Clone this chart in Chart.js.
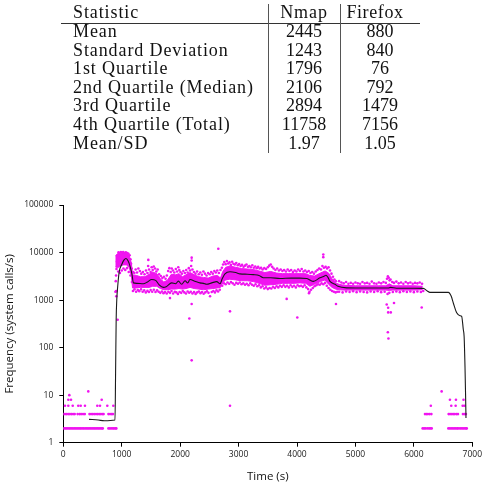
<!DOCTYPE html>
<html>
<head>
<meta charset="utf-8">
<script src="https://cdn.jsdelivr.net/npm/chart.js@4/dist/chart.umd.min.js"></script>
<style>
  html, body { margin: 0; padding: 0; background: #fff; }
  #page { position: relative; width: 488px; height: 484px; overflow: hidden; }
  #chart { position: absolute; left: 0; top: 0; }
  .cell { position: absolute; font-family: "Liberation Serif", serif; font-size: 18px; line-height: 19px; color: #111; white-space: nowrap; }
  .label { left: 73px; letter-spacing: 0.9px; }
  .num { width: 80px; text-align: center; }
  .nmap { left: 264px; }
  .ff { left: 340px; }
  .rule { position: absolute; background: #333; }
</style>
</head>
<body>
<div id="page">
  <canvas id="chart" width="488" height="484"></canvas>
  <div id="table"></div>
</div>
<script>
// 表格数据
const statNames = ['Mean', 'Standard Deviation', '1st Quartile', '2nd Quartile (Median)', '3rd Quartile', '4th Quartile (Total)', 'Mean/SD'];
const nmapStats = ['2445', '1243', '1796', '2106', '2894', '11758', '1.97'];
const firefoxStats = ['880', '840', '76', '792', '1479', '7156', '1.05'];

// 坐标轴刻度
const xTicks = [0, 1000, 2000, 3000, 4000, 5000, 6000, 7000];
const yTicks = [1, 10, 100, 1000, 10000, 100000];

// 黑色平均线 (时间, 频率)
const avgTime = [440, 600, 700, 885, 895, 905, 915, 935, 958, 1000, 1040, 1073, 1110, 1145, 1175, 1200, 1260, 1369, 1440, 1512, 1580, 1640, 1711, 1760, 1855, 1920, 1970, 2026, 2083, 2130, 2168, 2250, 2339, 2400, 2454, 2540, 2625, 2682, 2720, 2767, 2853, 2950, 3024, 3150, 3252, 3350, 3423, 3550, 3709, 3900, 4050, 4165, 4230, 4279, 4393, 4470, 4496, 4530, 4564, 4650, 4700, 4850, 5200, 5560, 5600, 5700, 6000, 6161, 6230, 6275, 6590, 6640, 6675, 6733, 6790, 6818, 6846, 6860, 6875, 6885, 6892];
const avgRate = [3.1, 3.0, 2.9, 3.0, 30, 400, 1000, 2200, 4000, 5600, 7000, 7500, 6600, 5000, 3500, 2300, 2250, 2200, 2400, 2700, 2600, 2100, 1850, 1900, 2300, 2200, 2500, 2150, 2550, 2300, 2700, 2500, 2300, 2250, 2150, 2300, 2450, 2200, 2800, 3560, 3940, 3800, 3560, 3500, 3430, 3300, 2950, 2950, 2850, 2900, 2900, 2850, 2600, 2480, 2950, 3200, 3340, 3000, 2480, 2150, 1950, 1810, 1790, 1800, 1850, 1780, 1780, 1760, 1550, 1450, 1450, 1200, 870, 540, 470, 455, 240, 172, 40, 10, 3.3];

// 密集采样带 (上沿/下沿)
const bandTime = [890, 930, 980, 1030, 1080, 1130, 1165, 1185, 1250, 1320, 1400, 1470, 1530, 1600, 1660, 1720, 1780, 1850, 1920, 1980, 2040, 2100, 2170, 2240, 2320, 2400, 2480, 2560, 2640, 2690, 2730, 2780, 2850, 2950, 3050, 3150, 3250, 3350, 3450, 3550, 3650, 3750, 3850, 3950, 4050, 4150, 4220, 4300, 4400, 4480, 4540, 4600, 4660, 4720, 4800, 5000, 5200, 5400, 5520, 5580, 5640, 5800, 6000, 6150];
const bandHigh = [8500, 9500, 9500, 9800, 9500, 8500, 6000, 3400, 3300, 3100, 3100, 3500, 3900, 3600, 2800, 2400, 2600, 3500, 3400, 3600, 3100, 3400, 3800, 3400, 3100, 3000, 2900, 3200, 3300, 2900, 4000, 4900, 5200, 4900, 4600, 4500, 4400, 4100, 3800, 4000, 3700, 3600, 3600, 3600, 3600, 3600, 3300, 3200, 3700, 4100, 3700, 2800, 2300, 2150, 2050, 2000, 2000, 2000, 2000, 2200, 2000, 2000, 2000, 1950];
const bandLow = [5000, 4800, 5200, 5500, 5500, 4800, 3200, 1800, 1800, 1850, 1850, 1850, 1950, 1950, 1750, 1650, 1650, 1700, 1700, 1750, 1700, 1750, 1850, 1750, 1700, 1650, 1700, 1750, 1800, 1850, 2350, 2650, 2750, 2650, 2550, 2550, 2450, 2250, 2050, 2100, 2150, 2250, 2250, 2250, 2300, 2250, 1950, 2150, 2450, 2650, 2150, 1850, 1700, 1650, 1620, 1620, 1620, 1620, 1620, 1600, 1620, 1620, 1620, 1650];

// 开始和结束时的低值采样 [时间, 频率]
const idleSamples = [
  [2, 2], [24, 2], [47, 2], [70, 2], [96, 2], [118, 2], [141, 2], [165, 2], [190, 2], [212, 2], [236, 2], [260, 2], [283, 2], [305, 2], [330, 2], [352, 2], [377, 2], [400, 2], [423, 2], [447, 2], [470, 2], [494, 2], [518, 2], [541, 2], [565, 2], [588, 2], [612, 2], [636, 2], [660, 2], [676, 2], [772, 2], [795, 2], [820, 2], [846, 2], [868, 2], [893, 2], [908, 2],
  [5, 4], [30, 4], [58, 4], [85, 4], [112, 4], [140, 4], [168, 4], [195, 4], [245, 4], [278, 4], [305, 4], [338, 4], [368, 4], [448, 4], [475, 4], [503, 4], [530, 4], [560, 4], [588, 4], [615, 4], [642, 4], [668, 4], [690, 4], [772, 4], [800, 4], [828, 4], [850, 4],
  [29, 6], [86, 6], [161, 6], [256, 6], [298, 6], [371, 6], [582, 6], [628, 6], [753, 6], [856, 6],
  [86, 8], [132, 8], [657, 8], [103, 10], [428, 12],
  [6150, 2], [6175, 2], [6200, 2], [6230, 2], [6260, 2], [6285, 2], [6305, 2], [6590, 2], [6615, 2], [6640, 2], [6665, 2], [6690, 2], [6715, 2], [6740, 2], [6760, 2], [6790, 2], [6815, 2], [6840, 2], [6865, 2], [6890, 2], [6905, 2],
  [6190, 4], [6215, 4], [6240, 4], [6270, 4], [6300, 4], [6595, 4], [6620, 4], [6650, 4], [6675, 4], [6700, 4], [6730, 4], [6755, 4], [6840, 4], [6865, 4], [6890, 4],
  [6290, 6], [6640, 6], [6715, 6], [6835, 6], [6865, 6], [6617, 8], [6720, 8], [6850, 8], [6475, 12]
];

// 离群点
const outlierSamples = [
  [905, 1540], [907, 1200], [930, 385], [1455, 7000], [1826, 1100], [2157, 410], [2197, 830], [2197, 54], [2197, 7800], [2197, 6800],
  [2653, 12000], [2853, 580], [2853, 6], [3823, 1060], [4005, 430], [4450, 9100], [4450, 8000], [4667, 830],
  [5535, 810], [5560, 690], [5560, 550], [5555, 210], [5565, 155], [5605, 550], [5660, 870], [6134, 700]
];

// 带边缘的零散点
const fuzzSamples = [
  [892, 1500], [898, 2500], [903, 3300], [910, 4500], [918, 6500], [928, 8000], [945, 10100], [965, 9800], [985, 10300], [1005, 9900], [1025, 10200], [1048, 9700], [1070, 10100], [1095, 9800], [1115, 9400], [1135, 8800], [1150, 7200], [1160, 5800], [1170, 4600],
  [940, 4000], [970, 3700], [1000, 4200], [1030, 4600], [1060, 4300], [1090, 4700], [1120, 3900], [1150, 3300], [1175, 2400],
  [1195, 3900], [1215, 3700], [1238, 4400], [1262, 3800], [1285, 4600], [1310, 4100], [1335, 3600], [1362, 3900], [1390, 3500], [1415, 4200], [1440, 3700], [1452, 5200], [1468, 4400], [1495, 3900], [1512, 4900], [1530, 4300], [1548, 5100], [1570, 4600], [1592, 4000], [1615, 4400], [1640, 3500], [1668, 3200], [1695, 2900], [1722, 3100], [1750, 2800], [1772, 3300], [1795, 4100], [1815, 4700], [1838, 3900], [1856, 4600], [1877, 4200], [1900, 3800], [1925, 4500], [1948, 4000], [1968, 4900], [1985, 4300], [2005, 3900], [2030, 3600], [2055, 4100], [2080, 3700], [2104, 4300], [2128, 3800], [2148, 4700], [2170, 4200], [2188, 5200], [2210, 4400], [2235, 3900], [2262, 3600], [2290, 4000], [2318, 3500], [2345, 3800], [2372, 3400], [2398, 4000], [2425, 3600], [2452, 3300], [2478, 3700], [2505, 3500], [2532, 3900], [2558, 3600], [2585, 4100], [2610, 3800], [2635, 4200], [2662, 3700], [2690, 4300],
  [1192, 1550], [1218, 1680], [1246, 1500], [1275, 1620], [1300, 1540], [1330, 1680], [1358, 1500], [1385, 1600], [1412, 1450], [1440, 1560], [1466, 1480], [1495, 1620], [1522, 1500], [1550, 1650], [1578, 1480], [1605, 1600], [1632, 1500], [1660, 1420], [1688, 1520], [1715, 1400], [1742, 1480], [1770, 1380], [1798, 1500], [1825, 1420], [1852, 1550], [1880, 1380], [1908, 1500], [1935, 1450], [1962, 1350], [1990, 1480], [2018, 1420], [2045, 1550], [2072, 1450], [2100, 1380], [2128, 1520], [2155, 1430], [2182, 1500], [2210, 1380], [2238, 1470], [2265, 1350], [2292, 1450], [2320, 1520], [2348, 1400], [2375, 1480], [2402, 1360], [2430, 1450], [2458, 1530], [2485, 1420], [2512, 1200], [2540, 1480], [2568, 1550], [2595, 1450], [2622, 1600], [2650, 1520], [2678, 1650],
  [2715, 4800], [2735, 5600], [2755, 6300], [2778, 5700], [2800, 6600], [2822, 5900], [2845, 6200], [2868, 5500], [2890, 6400], [2912, 5800], [2935, 5600], [2960, 6000], [2985, 5400], [3010, 5700], [3035, 5200], [3060, 5500], [3085, 5000], [3110, 5300], [3135, 5600], [3160, 5000], [3185, 5200], [3210, 4900], [3235, 5400], [3260, 4800], [3285, 5100], [3310, 4700], [3335, 5000], [3360, 4600], [3385, 4800], [3410, 4400], [3440, 4700], [3470, 4500], [3500, 4900], [3525, 5300], [3550, 5600], [3575, 5000], [3600, 4600], [3630, 4300], [3660, 4600], [3690, 4200], [3720, 4400], [3750, 4100], [3780, 4300], [3810, 4000], [3840, 4400], [3870, 4100], [3900, 4300], [3930, 3900], [3960, 4200], [3990, 4000], [4020, 4400], [4050, 4100], [4080, 4500], [4110, 4000], [4140, 4200], [4170, 3900], [4200, 4100], [4230, 3700], [4260, 3900], [4290, 3600], [4320, 4000], [4350, 4300], [4380, 4600], [4410, 4400], [4435, 5200], [4460, 4800], [4490, 5000], [4515, 4600], [4540, 4900], [4565, 4200], [4590, 3600], [4615, 3100], [4640, 2700], [4665, 2500],
  [2720, 2000], [2750, 2250], [2780, 2150], [2810, 2350], [2840, 2200], [2870, 2400], [2900, 2250], [2930, 2100], [2960, 2300], [2990, 2200], [3020, 2350], [3050, 2150], [3080, 2250], [3110, 2100], [3140, 2200], [3170, 2050], [3200, 2250], [3230, 2100], [3260, 2000], [3290, 2150], [3320, 1950], [3350, 2050], [3380, 1850], [3410, 1950], [3440, 1750], [3470, 1850], [3500, 1700], [3530, 1800], [3560, 1750], [3590, 1900], [3620, 1800], [3650, 1950], [3680, 1850], [3710, 2000], [3740, 1900], [3770, 2050], [3800, 1900], [3830, 2000], [3860, 1850], [3890, 2050], [3920, 1900], [3950, 2000], [3980, 1850], [4010, 2050], [4040, 1950], [4070, 2000], [4100, 1900], [4130, 2050], [4160, 1850], [4190, 1700], [4205, 1400], [4215, 1500], [4240, 1650], [4270, 1800], [4300, 1950], [4330, 2050], [4360, 2150], [4390, 2100], [4420, 2250], [4450, 2150], [4480, 2300], [4510, 2000], [4540, 1800], [4570, 1650], [4600, 1550], [4630, 1500], [4660, 1450], [4690, 1500],
  [4720, 2500], [4760, 2350], [4800, 2250], [4840, 2400], [4880, 2200], [4920, 2300], [4960, 2200], [5000, 2350], [5040, 2250], [5080, 2200], [5120, 2400], [5160, 2250], [5200, 2300], [5240, 2200], [5280, 2450], [5320, 2250], [5360, 2200], [5400, 2350], [5440, 2250], [5480, 2400], [5520, 2300], [5540, 2800], [5555, 3150], [5570, 2950], [5585, 2600], [5600, 2700], [5630, 2400], [5660, 2300], [5700, 2450], [5740, 2250], [5780, 2350], [5820, 2200], [5860, 2400], [5900, 2250], [5940, 2350], [5980, 2200], [6020, 2300], [6060, 2250], [6100, 2350], [6140, 2200],
  [4720, 1500], [4780, 1450], [4840, 1520], [4900, 1480], [4960, 1530], [5020, 1470], [5080, 1520], [5140, 1480], [5200, 1450], [5260, 1520], [5320, 1480], [5380, 1530], [5440, 1470], [5500, 1500], [5550, 1350], [5580, 1420], [5640, 1480], [5700, 1520], [5760, 1470], [5820, 1530], [5880, 1480], [5940, 1520], [6000, 1470], [6060, 1520], [6120, 1480], [6160, 1550]
];

const MAGENTA = '#f014f0';

// 画表格
function buildTable() {
    const table = document.getElementById('table');
    let html = '';
    const top = b => b - 14;  // 基线 -> div 顶部
    html += `<div class="cell label" style="top:${top(17.3)}px">Statistic</div>`;
    html += `<div class="cell num nmap" style="top:${top(17.3)}px;letter-spacing:0.9px">Nmap</div>`;
    html += `<div class="cell num" style="top:${top(17.3)}px;left:335px;letter-spacing:0.6px">Firefox</div>`;
    statNames.forEach((name, i) => {
        const b = 36 + i * 18.6;
        html += `<div class="cell label" style="top:${top(b)}px">${name}</div>`;
        html += `<div class="cell num nmap" style="top:${top(b)}px">${nmapStats[i]}</div>`;
        html += `<div class="cell num ff" style="top:${top(b)}px">${firefoxStats[i]}</div>`;
    });
    html += '<div class="rule" style="left:61px;top:23px;width:359px;height:1.2px"></div>';
    html += '<div class="rule" style="left:267.5px;top:4px;width:1.2px;height:149px;background:#555"></div>';
    html += '<div class="rule" style="left:339.5px;top:4px;width:1.2px;height:149px;background:#555"></div>';
    table.innerHTML = html;
}

function toPoints(xs, ys) {
    return xs.map((x, i) => ({ x: x, y: ys[i] }));
}

function pairsToPoints(pairs) {
    return pairs.map(p => ({ x: p[0], y: p[1] }));
}

buildTable();

const tickFont = { family: '"Open Sans", sans-serif', size: 8.5 };
const titleFont = { family: '"Open Sans", sans-serif', size: 11.5 };

new Chart(document.getElementById('chart'), {
    type: 'scatter',
    data: {
        datasets: [
            {
                data: toPoints(avgTime, avgRate),
                showLine: true,
                borderColor: '#1a1a1a',
                borderWidth: 1.1,
                pointRadius: 0,
                tension: 0.4,
                cubicInterpolationMode: 'monotone'
            },
            {
                data: toPoints(bandTime, bandHigh),
                showLine: true,
                borderColor: MAGENTA,
                backgroundColor: MAGENTA,
                borderWidth: 1,
                pointRadius: 0,
                fill: '+1'
            },
            {
                data: toPoints(bandTime, bandLow),
                showLine: true,
                borderColor: MAGENTA,
                borderWidth: 1,
                pointRadius: 0,
                fill: false
            },
            {
                data: pairsToPoints(idleSamples.concat(outlierSamples, fuzzSamples)),
                backgroundColor: MAGENTA,
                borderWidth: 0,
                pointRadius: 1.3
            }
        ]
    },
    options: {
        responsive: false,
        animation: false,
        layout: { padding: { top: 205, right: 15.7, bottom: 0, left: 0 } },
        plugins: {
            legend: { display: false },
            tooltip: { enabled: false }
        },
        scales: {
            x: {
                type: 'linear',
                min: 0,
                max: 7000,
                afterBuildTicks: axis => { axis.ticks = xTicks.map(v => ({ value: v })); },
                afterFit: axis => { axis.height = 41.3; },
                ticks: { color: '#222', font: tickFont, padding: 3, maxRotation: 0, callback: v => String(v) },
                grid: { display: true, drawOnChartArea: false, drawTicks: true, tickLength: 4, color: '#000' },
                border: { display: true, color: '#000', width: 1 },
                title: { display: true, text: 'Time (s)', color: '#111', font: titleFont, padding: { top: 0, bottom: 0 } }
            },
            y: {
                type: 'logarithmic',
                min: 1,
                max: 100000,
                afterBuildTicks: axis => { axis.ticks = yTicks.map(v => ({ value: v })); },
                afterFit: axis => { axis.width = 63.3; },
                ticks: { color: '#222', font: tickFont, padding: 6, callback: v => String(v) },
                grid: { display: true, drawOnChartArea: false, drawTicks: true, tickLength: 4, color: '#000' },
                border: { display: true, color: '#000', width: 1 },
                title: { display: true, text: 'Frequency (system calls/s)', color: '#111', font: titleFont, padding: { top: 3, bottom: 3 } }
            }
        }
    }
});
</script>
</body>
</html>
